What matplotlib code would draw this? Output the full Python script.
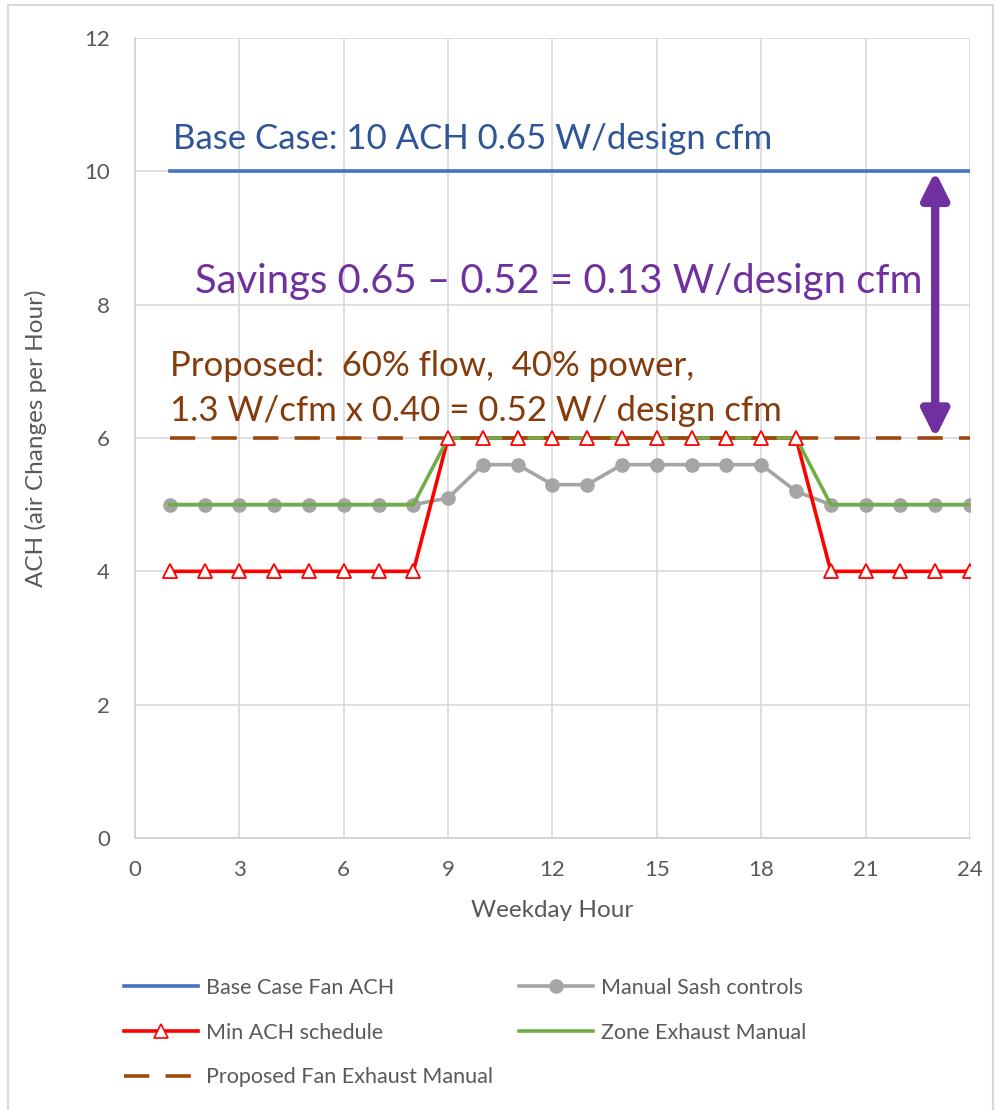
import matplotlib
matplotlib.use("Agg")
import matplotlib.pyplot as plt
from matplotlib.patches import Rectangle

plt.rcParams['font.family'] = ['Lato', 'DejaVu Sans']

hours = list(range(1, 25))
base_case = [10] * 24
manual_sash = [5, 5, 5, 5, 5, 5, 5, 5, 5.1, 5.6, 5.6, 5.3, 5.3, 5.6, 5.6, 5.6, 5.6, 5.6, 5.2, 5.0, 5, 5, 5, 5]
min_ach = [4, 4, 4, 4, 4, 4, 4, 4, 6, 6, 6, 6, 6, 6, 6, 6, 6, 6, 6, 4, 4, 4, 4, 4]
zone_exhaust = [5, 5, 5, 5, 5, 5, 5, 5, 6, 6, 6, 6, 6, 6, 6, 6, 6, 6, 6, 5, 5, 5, 5, 5]
proposed = [6] * 24

x_ticks = [0, 3, 6, 9, 12, 15, 18, 21, 24]
y_ticks = [0, 2, 4, 6, 8, 10, 12]

fig = plt.figure(figsize=(10.01, 11.10), dpi=100)
ax = fig.add_axes([135 / 1001, 1 - 838 / 1110, (970 - 135) / 1001, 800 / 1110])

fig.patches.append(Rectangle((8 / 1001, -0.01), (993 - 8) / 1001, 1 - 5 / 1110 + 0.01,
                             transform=fig.transFigure, fill=False, edgecolor='#D9D9D9', lw=1.5))

h_base, = ax.plot(hours, base_case, color='#4472C4', lw=2.6, label='Base Case Fan ACH', zorder=3)
h_sash, = ax.plot(hours, manual_sash, color='#A5A5A5', lw=2.6, marker='o', markersize=9.5,
                  markerfacecolor='#A5A5A5', markeredgecolor='#A5A5A5', label='Manual Sash controls', zorder=3)
h_min, = ax.plot(hours, min_ach, color='#FF0000', lw=2.6, marker='^', markersize=10,
                 markerfacecolor='white', markeredgecolor='#FF0000', markeredgewidth=1.2,
                 label='Min ACH schedule', zorder=3.1)
h_zone, = ax.plot(hours, zone_exhaust, color='#70AD47', lw=2.6, label='Zone Exhaust Manual', zorder=3.2)
h_prop, = ax.plot(hours, proposed, color='#9E480E', lw=2.6, dashes=(7, 4.5),
                  label='Proposed Fan Exhaust Manual', zorder=3.3)
ax.plot(hours, min_ach, linestyle='none', marker='^', markersize=10,
        markerfacecolor='white', markeredgecolor='#FF0000', markeredgewidth=1.2, zorder=3.4)

ax.set_xlim(0, 24)
ax.set_ylim(0, 12)
ax.set_xticks(x_ticks)
ax.set_yticks(y_ticks)
ax.grid(True, color='#D9D9D9', lw=1.2)
ax.set_axisbelow(True)
for s in ['top', 'right']:
    ax.spines[s].set_visible(False)
for s in ['left', 'bottom']:
    ax.spines[s].set_color('#D0D0D0')
    ax.spines[s].set_linewidth(1.2)
ax.tick_params(axis='y', length=0, labelsize=16, labelcolor='#595959', pad=18)
ax.tick_params(axis='x', length=0, labelsize=16, labelcolor='#595959', pad=16)
ax.set_xlabel('Weekday Hour', fontsize=17.5, color='#595959', labelpad=14)
ax.set_ylabel('ACH (air Changes per Hour)', fontsize=17.5, color='#595959', labelpad=27)

ax.text(1.1, 10.25, 'Base Case: 10 ACH 0.65 W/design cfm', fontsize=25, color='#2F5597', va='bottom')
ax.text(1.72, 8.35, 'Savings 0.65 \u2013 0.52 = 0.13 W/design cfm', fontsize=28.8, color='#7030A0', va='center')
ax.text(1.0, 7.08, 'Proposed:  60% flow,  40% power,', fontsize=25, color='#843C0C', va='center')
ax.text(1.0, 6.4, '1.3 W/cfm x 0.40 = 0.52 W/ design cfm', fontsize=25, color='#843C0C', va='center')

ax.annotate('', xy=(23.0, 10.0), xytext=(23.0, 6.0),
            arrowprops=dict(arrowstyle='<|-|>,head_length=0.8,head_width=0.4', color='#7030A0', lw=6,
                            mutation_scale=20, shrinkA=0, shrinkB=0), zorder=5)

leg_kw = dict(loc='upper left', frameon=False, fontsize=15.5, labelcolor='#595959',
              handlelength=3.45, labelspacing=1.15, handletextpad=0.37, borderpad=0)
leg1 = fig.legend(handles=[h_base, h_min, h_prop], bbox_to_anchor=(113 / 1001, 1 - 967 / 1110), **leg_kw)
leg2 = fig.legend(handles=[h_sash, h_zone], bbox_to_anchor=(508 / 1001, 1 - 967 / 1110), **leg_kw)

fig.savefig('out.png', dpi=100)
